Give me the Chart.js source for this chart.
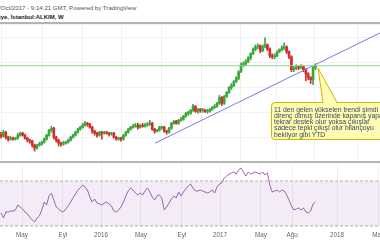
<!DOCTYPE html>
<html>
<head>
<meta charset="utf-8">
<script src="https://cdn.jsdelivr.net/npm/chart.js@4.4.0/dist/chart.umd.min.js"></script>
<style>
  html, body { margin: 0; padding: 0; background: #fff; width: 380px; height: 240px; overflow: hidden; }
  body { position: relative; font-family: "Liberation Sans", Arial, sans-serif; }
  .hdr { position: absolute; left: -1px; white-space: nowrap; }
  .hdr--time { top: 4px; font-size: 6.1px; color: #555; }
  .hdr--sym { top: 14px; font-size: 6px; color: #222; font-weight: bold; }
  .rule { position: absolute; left: 0; width: 380px; background: #b4b4b4; }
  #main-wrap { position: absolute; left: 0; top: 24px; }
  #rsi-wrap { position: absolute; left: 0; top: 163px; }
  .note {
    position: absolute; left: 271px; top: 102px; width: 130px; height: 38px;
    background: #fefbb2; border: 1px solid #d2b600; border-radius: 4px;
    box-sizing: border-box; padding: 3.5px 0 0 2px;
    font-size: 6.8px; line-height: 6.3px; color: #3a4a60; white-space: nowrap;
  }
  .note-tail { position: absolute; left: 0; top: 0; width: 380px; height: 240px; pointer-events: none; }
</style>
</head>
<body>
  <div class="hdr hdr--time">/Oct/2017 - 9:14:21 GMT, Powered by TradingView</div>
  <div class="hdr hdr--sym">iye, İstanbul:ALKIM, W</div>
  <div class="rule" style="top:22px;height:2px;"></div>

  <div id="main-wrap"><canvas id="main-chart" width="380" height="137"></canvas></div>
  <div class="rule" style="top:161px;height:2px;"></div>
  <div id="rsi-wrap"><canvas id="rsi-chart" width="380" height="77"></canvas></div>

  <div class="note">
    11 den gelen yükselen trendi şimdi<br>
    direnç olmuş üzerinde kapanış yaparsa<br>
    tekrar destek olur yoksa çıkışlar<br>
    sadece tepki çıkışı olur bilançoyu<br>
    bekliyor gibi YTD
  </div>
  <svg class="note-tail" viewBox="0 0 380 240">
    <polygon points="323,103.5 318,68 337,103.5" fill="#fefbb2"/>
    <polyline points="323,102.5 318,68 337,102.5" fill="none" stroke="#d2b600" stroke-width="1"/>
  </svg>

<script>
/* weekly ALKIM candles, Apr 2015 -> Oct 2017 (index = week) */
const opens = [7.8, 7.6, 8.0, 7.5, 7.3, 7.4, 7.3, 7.4, 7.7, 7.9, 7.7, 7.4, 7.2, 7.1, 6.7, 6.4, 6.7, 6.8, 7.0, 7.3,
  7.7, 8.2, 8.4, 7.5, 7.2, 6.9, 6.8, 6.9, 7.0, 7.2, 7.5, 7.7, 8.0, 8.3, 8.5, 8.7, 8.9, 8.8, 8.5, 8.1,
  7.9, 7.7, 8.0, 7.9, 8.0, 7.9, 7.8, 7.9, 7.5, 7.3, 7.4, 7.3, 7.7, 8.0, 8.3, 8.5, 8.6, 8.7, 8.5, 8.7,
  8.6, 8.7, 8.8, 8.9, 8.3, 8.1, 8.2, 8.5, 8.5, 8.1, 8.0, 8.4, 8.9, 9.1, 8.9, 9.2, 9.3, 9.6, 9.9, 9.9,
  10.2, 10.6, 10.1, 10.3, 10.2, 10.2, 10.1, 10.1, 10.3, 10.5, 10.6, 10.9, 11.5, 10.9, 11.6, 12.0, 12.5, 12.7, 13.1, 13.4,
  14.1, 14.8, 14.9, 15.1, 15.5, 15.9, 16.3, 16.6, 16.7, 16.2, 16.6, 16.8, 16.4, 15.7, 15.6, 15.7, 16.1, 16.3, 16.5, 16.6,
  16.1, 15.6, 14.3, 14.4, 14.6, 14.5, 14.6, 14.3, 13.9, 13.5, 13.3, 14.5];
const highs = [8.0, 8.2, 8.1, 7.6, 7.6, 7.5, 7.5, 7.9, 8.0, 8.0, 7.8, 7.5, 7.3, 7.2, 6.8, 6.8, 7.0, 7.1, 7.4, 7.8,
  8.3, 8.6, 8.5, 7.6, 7.3, 7.0, 7.1, 7.1, 7.3, 7.6, 7.8, 8.1, 8.4, 8.6, 8.9, 9.1, 9.0, 8.9, 8.6, 8.2,
  8.0, 8.1, 8.1, 8.1, 8.1, 8.0, 8.0, 8.0, 7.6, 7.5, 7.5, 7.8, 8.1, 8.4, 8.6, 8.8, 8.9, 8.9, 8.8, 8.9,
  8.9, 9.0, 9.2, 9.0, 8.4, 8.3, 8.6, 8.6, 8.6, 8.2, 8.5, 9.0, 9.2, 9.2, 9.3, 9.5, 9.7, 10.0, 10.1, 10.3,
  10.8, 10.7, 10.4, 10.4, 10.4, 10.3, 10.3, 10.4, 10.6, 10.8, 11.0, 11.7, 11.6, 11.7, 12.1, 12.6, 12.9, 13.2, 13.6, 14.2,
  15.0, 15.1, 15.3, 15.6, 16.0, 16.5, 16.8, 16.9, 16.8, 16.8, 17.5, 16.9, 16.5, 15.9, 15.9, 16.2, 16.4, 16.7, 17.0, 16.7,
  16.2, 15.7, 14.6, 14.8, 14.7, 14.8, 14.7, 14.4, 14.0, 13.6, 14.6, 14.9];
const lows = [7.4, 7.5, 7.3, 7.1, 7.2, 7.2, 7.2, 7.3, 7.6, 7.6, 7.3, 7.0, 6.9, 6.5, 6.1, 6.3, 6.6, 6.7, 6.9, 7.2,
  7.6, 8.0, 7.3, 7.0, 6.6, 6.6, 6.7, 6.8, 6.9, 7.1, 7.4, 7.6, 7.9, 8.2, 8.4, 8.6, 8.6, 8.4, 7.9, 7.7,
  7.5, 7.6, 7.3, 7.8, 7.8, 7.6, 7.7, 7.4, 7.2, 7.2, 7.1, 7.2, 7.6, 7.9, 8.2, 8.4, 8.5, 8.3, 8.4, 8.5,
  8.5, 8.6, 8.7, 8.2, 7.9, 8.0, 8.1, 8.3, 8.0, 7.8, 7.9, 8.3, 8.8, 8.8, 8.8, 9.1, 9.2, 9.5, 9.7, 9.8,
  10.1, 10.0, 9.9, 10.0, 10.0, 10.0, 9.9, 10.0, 10.2, 10.4, 10.5, 10.8, 10.7, 10.8, 11.5, 11.9, 12.3, 12.6, 13.0, 13.3,
  14.0, 14.6, 14.7, 15.0, 15.3, 15.8, 16.2, 16.4, 16.0, 16.1, 16.5, 16.2, 15.5, 15.4, 15.4, 15.6, 16.0, 16.2, 16.3, 15.9,
  15.4, 14.1, 14.1, 14.3, 14.3, 14.4, 14.1, 13.2, 13.3, 12.9, 12.8, 14.3];
const closes = [7.6, 8.0, 7.5, 7.3, 7.4, 7.3, 7.4, 7.7, 7.9, 7.7, 7.4, 7.2, 7.1, 6.7, 6.4, 6.7, 6.8, 7.0, 7.3, 7.7,
  8.2, 8.4, 7.5, 7.2, 6.9, 6.8, 6.9, 7.0, 7.2, 7.5, 7.7, 8.0, 8.3, 8.5, 8.7, 8.9, 8.8, 8.5, 8.1, 7.9,
  7.7, 8.0, 7.9, 8.0, 7.9, 7.8, 7.9, 7.5, 7.3, 7.4, 7.3, 7.7, 8.0, 8.3, 8.5, 8.6, 8.7, 8.5, 8.7, 8.6,
  8.7, 8.8, 8.9, 8.3, 8.1, 8.2, 8.5, 8.5, 8.1, 8.0, 8.4, 8.9, 9.1, 8.9, 9.2, 9.3, 9.6, 9.9, 9.9, 10.2,
  10.6, 10.1, 10.3, 10.2, 10.2, 10.1, 10.1, 10.3, 10.5, 10.6, 10.9, 11.5, 10.9, 11.6, 12.0, 12.5, 12.7, 13.1, 13.4, 14.1,
  14.8, 14.9, 15.1, 15.5, 15.9, 16.3, 16.6, 16.7, 16.2, 16.6, 16.8, 16.4, 15.7, 15.6, 15.7, 16.1, 16.3, 16.5, 16.6, 16.1,
  15.6, 14.3, 14.4, 14.6, 14.5, 14.6, 14.3, 13.9, 13.5, 13.3, 14.5, 14.7];

/* RSI(14) under the price pane */
const rsiValues = [41.6, 37.1, 42.4, 42.4, 43.3, 43.3, 44.2, 48.7, 46.9, 45.1, 42.4, 40.7, 38.0, 35.3, 33.6, 37.1, 38.9, 44.2, 51.3, 48.7,
  56.7, 59.3, 53.1, 46.9, 45.1, 43.3, 42.4, 45.1, 47.8, 51.3, 54.9, 58.4, 62.0, 63.8, 66.4, 64.7, 62.0, 55.8, 51.3, 54.0,
  50.4, 49.6, 48.7, 50.4, 51.3, 49.6, 47.8, 43.3, 42.4, 44.2, 46.9, 51.3, 56.7, 61.1, 63.8, 62.0, 59.3, 57.6, 59.3, 57.6,
  61.1, 63.8, 60.2, 55.8, 53.1, 56.7, 57.6, 54.9, 44.2, 46.9, 50.4, 54.0, 56.7, 54.9, 60.2, 56.7, 60.2, 62.9, 65.6, 67.3,
  63.8, 61.1, 61.1, 62.0, 61.1, 60.2, 59.3, 60.2, 62.0, 59.3, 64.7, 67.3, 68.2, 72.7, 74.4, 76.2, 77.1, 78.0, 76.2, 79.8,
  81.6, 78.0, 74.4, 78.0, 76.2, 77.1, 78.0, 77.1, 76.2, 78.0, 75.3, 77.1, 66.4, 60.2, 61.1, 62.0, 60.2, 62.0, 61.1, 57.6,
  53.1, 47.8, 44.2, 45.1, 46.0, 44.2, 46.0, 42.4, 41.6, 43.3, 49.6, 51.3];
const rsiUpper = 70;
const rsiLower = 30;

/* drawings on the price pane */
const resistanceLevel = 14.7;
const trendLine = [{ x: 64.2, y: 6.9 }, { x: 157.9, y: 18.0 }];

/* time axis: week index of each label */
const tickWeeks = [8.75, 25.8, 41.7, 58.3, 75.4, 91.25, 108.3, 121.25, 140, 157.1];
const tickLabels = ['May', 'Eyl', '2016', 'May', 'Eyl', '2017', 'May', 'Ağu', '2018', 'May'];

const X_MIN = -0.42, X_MAX = 157.9;
const UP = '#3aa83c', DOWN = '#d42d2b';
const candleColor = ctx => {
  const i = ctx.dataIndex;
  return closes[i] >= opens[i] ? UP : DOWN;
};

const weekTicks = scale => { scale.ticks = tickWeeks.map(v => ({ value: v })); };

new Chart(document.getElementById('main-chart'), {
  type: 'bar',
  data: {
    datasets: [
      {
        type: 'line', data: [{ x: X_MIN, y: resistanceLevel }, { x: X_MAX, y: resistanceLevel }],
        borderColor: '#93d493', borderWidth: 1, pointRadius: 0
      },
      {
        type: 'line', data: trendLine,
        borderColor: '#7a7ae2', borderWidth: 1, pointRadius: 0
      },
      {
        data: opens.map((o, i) => ({ x: i, y: [lows[i], highs[i]] })),
        backgroundColor: candleColor, barThickness: 1, grouped: false, minBarLength: 1
      },
      {
        data: opens.map((o, i) => ({ x: i, y: [o, closes[i]] })),
        backgroundColor: candleColor, barThickness: 2, grouped: false, minBarLength: 1
      }
    ]
  },
  options: {
    responsive: false,
    animation: false,
    layout: { padding: 0 },
    plugins: { legend: { display: false }, tooltip: { enabled: false } },
    scales: {
      x: {
        type: 'linear', min: X_MIN, max: X_MAX, offset: false,
        afterBuildTicks: weekTicks,
        ticks: { display: false },
        grid: { color: '#f1f1f1', drawTicks: false },
        border: { display: false },
        afterFit: s => { s.height = 0; s.paddingLeft = 0; s.paddingRight = 0; }
      },
      y: {
        position: 'right', min: 5.1, max: 18.9,
        ticks: { display: false, stepSize: 2.5 },
        grid: { color: '#f1f1f1', drawTicks: false },
        border: { display: false },
        afterFit: s => { s.width = 0; }
      }
    }
  }
});

new Chart(document.getElementById('rsi-chart'), {
  type: 'line',
  data: {
    datasets: [
      {
        data: [{ x: X_MIN, y: rsiUpper }, { x: X_MAX, y: rsiUpper }],
        borderColor: '#bba9bd', borderWidth: 1, borderDash: [3, 2], pointRadius: 0,
        fill: '+1', backgroundColor: 'rgba(150, 70, 160, 0.11)'
      },
      {
        data: [{ x: X_MIN, y: rsiLower }, { x: X_MAX, y: rsiLower }],
        borderColor: '#bba9bd', borderWidth: 1, borderDash: [3, 2], pointRadius: 0
      },
      {
        data: rsiValues.map((v, i) => ({ x: i, y: v })),
        borderColor: '#9a68ae', borderWidth: 1, pointRadius: 0, tension: 0
      }
    ]
  },
  options: {
    responsive: false,
    animation: false,
    layout: { padding: 0 },
    plugins: { legend: { display: false }, tooltip: { enabled: false } },
    scales: {
      x: {
        type: 'linear', min: X_MIN, max: X_MAX,
        afterBuildTicks: weekTicks,
        ticks: {
          autoSkip: false, maxRotation: 0, padding: 2,
          color: '#666', font: { family: 'Liberation Sans', size: 6.3 },
          callback: v => tickLabels[tickWeeks.indexOf(v)]
        },
        grid: { color: '#f1f1f1', drawTicks: false },
        border: { display: false },
        afterFit: s => { s.height = 11; s.paddingLeft = 0; s.paddingRight = 0; }
      },
      y: {
        position: 'right', min: 27.3, max: 86,
        ticks: { display: false },
        grid: { display: false },
        border: { display: false },
        afterFit: s => { s.width = 0; }
      }
    }
  }
});
</script>
</body>
</html>
